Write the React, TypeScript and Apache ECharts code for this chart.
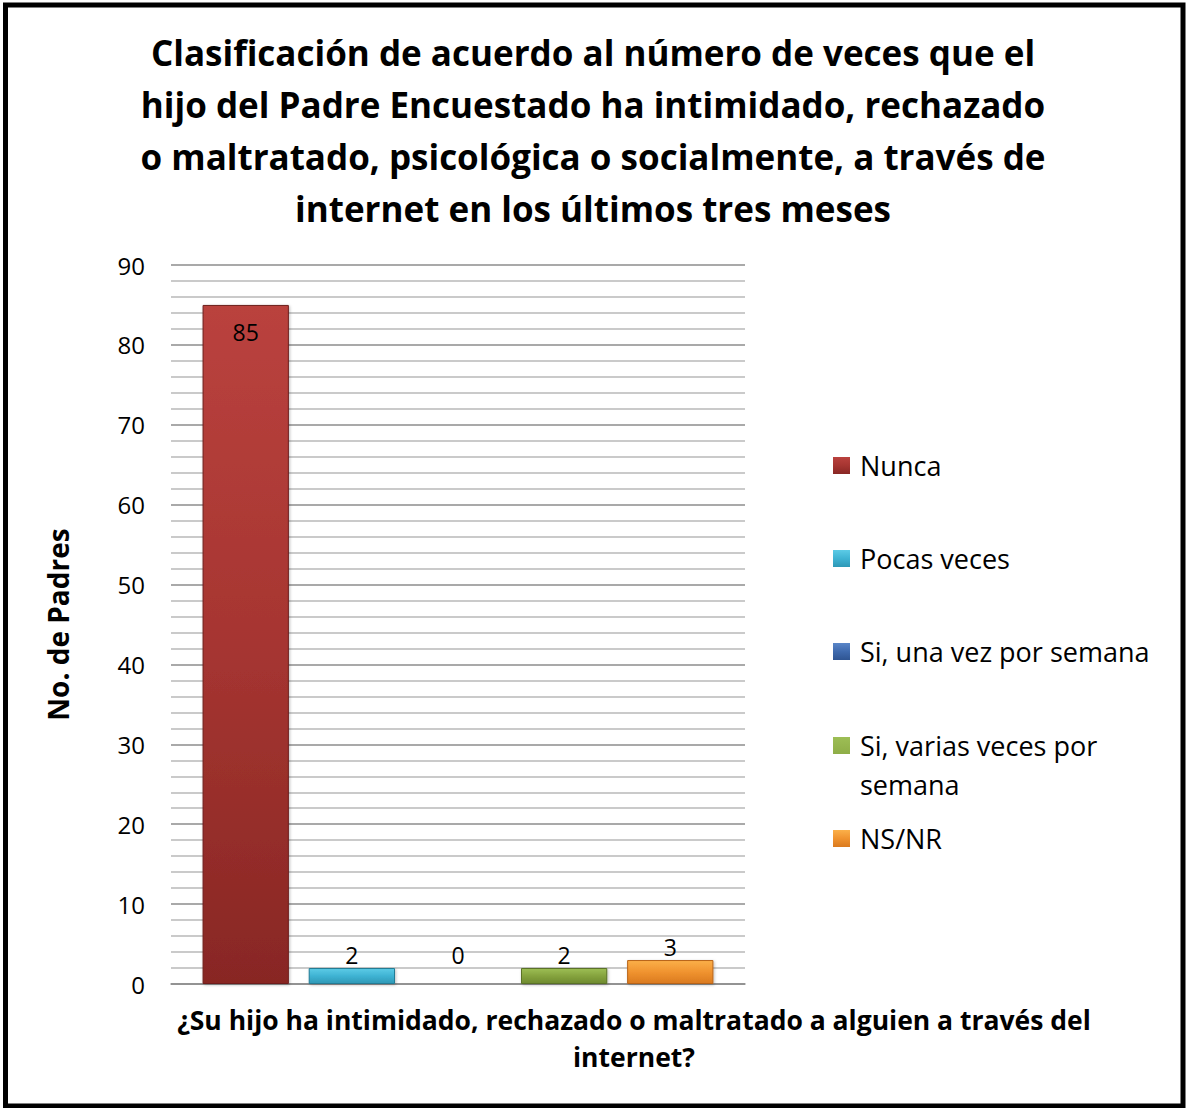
import React, { useEffect, useRef } from "react";
import * as echarts from "echarts";

const titleLines = [
  "Clasificación de acuerdo al número de veces que el",
  "hijo del Padre Encuestado ha intimidado, rechazado",
  "o maltratado, psicológica o socialmente, a través de",
  "internet en los últimos tres meses",
];
const categories = ["¿Su hijo ha intimidado, rechazado o maltratado a alguien a través del internet?"];
const seriesNames = ["Nunca", "Pocas veces", "Si, una vez por semana", "Si, varias veces por semana", "NS/NR"];
const seriesValues = [85, 2, 0, 2, 3];
const yTicks = [0, 10, 20, 30, 40, 50, 60, 70, 80, 90];
const yAxisTitle = "No. de Padres";
const xAxisTitleLines = ["¿Su hijo ha intimidado, rechazado o maltratado a alguien a través del", "internet?"];

const palette = [
  { top: "#BA423E", mid: "#A63531", bot: "#882724", edge: "#6E1F1C" },
  { top: "#5CCBE6", mid: "#3FB3D3", bot: "#2E98B6", edge: "#247C95" },
  { top: "#5A86C8", mid: "#3F6AAE", bot: "#2F5592", edge: "#25447A" },
  { top: "#9DBE55", mid: "#85A33E", bot: "#6E8A2F", edge: "#5A7226" },
  { top: "#FBB04A", mid: "#F0932F", bot: "#DA7A1F", edge: "#B86318" },
];

const FONT = "'Open Sans', sans-serif";

export default function App() {
  const ref = useRef<HTMLDivElement>(null);
  useEffect(() => {
    document.body.style.margin = "0";
    const chart = echarts.init(ref.current!, null, { renderer: "svg" });
    const tops = [446, 539, 632, 726, 819];
    const legends = seriesNames.map((name, i) => {
      const twoLine = i === 3;
      return {
        show: true,
        orient: "vertical",
        left: 833,
        top: tops[i],
        padding: 0,
        data: [name],
        itemWidth: 17,
        itemHeight: twoLine ? 56 : 17,
        itemGap: 0,
        icon: twoLine ? "path://M0,0H17V17H0ZM0,56L0.001,56Z" : "rect",
        itemStyle: { borderWidth: 0, shadowBlur: 0, shadowOffsetX: 0, shadowOffsetY: 0 },
        formatter: (n: string) => (n === "Si, varias veces por semana" ? "Si, varias veces por\nsemana" : n),
        textStyle: { fontSize: 27, color: "#000", fontFamily: FONT, lineHeight: 39, padding: [0, 0, 0, 5] },
        selectedMode: false,
      };
    });
    const option: any = {
      animation: false,
      backgroundColor: "#fff",
      title: {
        text: titleLines.join("\n"),
        left: "center",
        top: 21,
        textStyle: { fontSize: 35, fontWeight: "bold", color: "#000", fontFamily: FONT, lineHeight: 52 },
      },
      legend: legends,
      grid: { left: 171, right: 441, top: 265, bottom: 124, containLabel: false },
      xAxis: {
        type: "category",
        data: categories,
        axisLabel: { show: false },
        axisTick: { show: false },
        axisLine: { show: true, lineStyle: { color: "#8c8c8c", width: 1.5 } },
      },
      yAxis: {
        type: "value",
        min: yTicks[0],
        max: yTicks[yTicks.length - 1],
        interval: 10,
        name: yAxisTitle,
        nameLocation: "middle",
        nameRotate: 90,
        nameGap: 99,
        nameTextStyle: { fontSize: 28, fontWeight: "bold", color: "#000", fontFamily: FONT },
        axisLine: { show: false },
        axisTick: { show: false },
        axisLabel: { fontSize: 24, color: "#000", fontFamily: FONT, margin: 26 },
        splitLine: { show: true, lineStyle: { color: "#8c8c8c", width: 1.5 } },
        minorTick: { show: false, splitNumber: 5 },
        minorSplitLine: { show: true, lineStyle: { color: "#b8b8b8", width: 1.5 } },
      },
      series: seriesNames.map((name, i) => ({
        name,
        type: "bar",
        data: [seriesValues[i]],
        barGap: "23%",
        barCategoryGap: "11%",
        itemStyle: {
          color: new echarts.graphic.LinearGradient(0, 0, 0, 1, [
            { offset: 0, color: palette[i].top },
            { offset: 0.5, color: palette[i].mid },
            { offset: 1, color: palette[i].bot },
          ]),
          borderColor: palette[i].edge,
          borderWidth: 1,
          shadowColor: "rgba(0,0,0,0.25)",
          shadowBlur: 3,
          shadowOffsetX: 1,
          shadowOffsetY: 1,
        },
        label: {
          show: true,
          position: i === 0 ? "insideTop" : "top",
          distance: i === 0 ? 16 : i === 2 ? 17 : 2,
          fontSize: 23,
          color: "#000",
          fontFamily: FONT,
        },
      })),
      graphic: [
        {
          type: "text",
          z: 10,
          style: {
            text: xAxisTitleLines.join("\n"),
            x: 634,
            y: 1001,
            textAlign: "center",
            fontSize: 26.5,
            fontWeight: "bold",
            lineHeight: 37,
            fill: "#000",
            fontFamily: FONT,
          },
        },
        {
          type: "rect",
          shape: { x: 5.5, y: 5, width: 1177.5, height: 1101 },
          style: { fill: "none", stroke: "#000", lineWidth: 5 },
          z: 20,
        },
      ],
    };
    chart.setOption(option);
    return () => chart.dispose();
  }, []);
  return <div ref={ref} style={{ width: 1186, height: 1108 }} />;
}
